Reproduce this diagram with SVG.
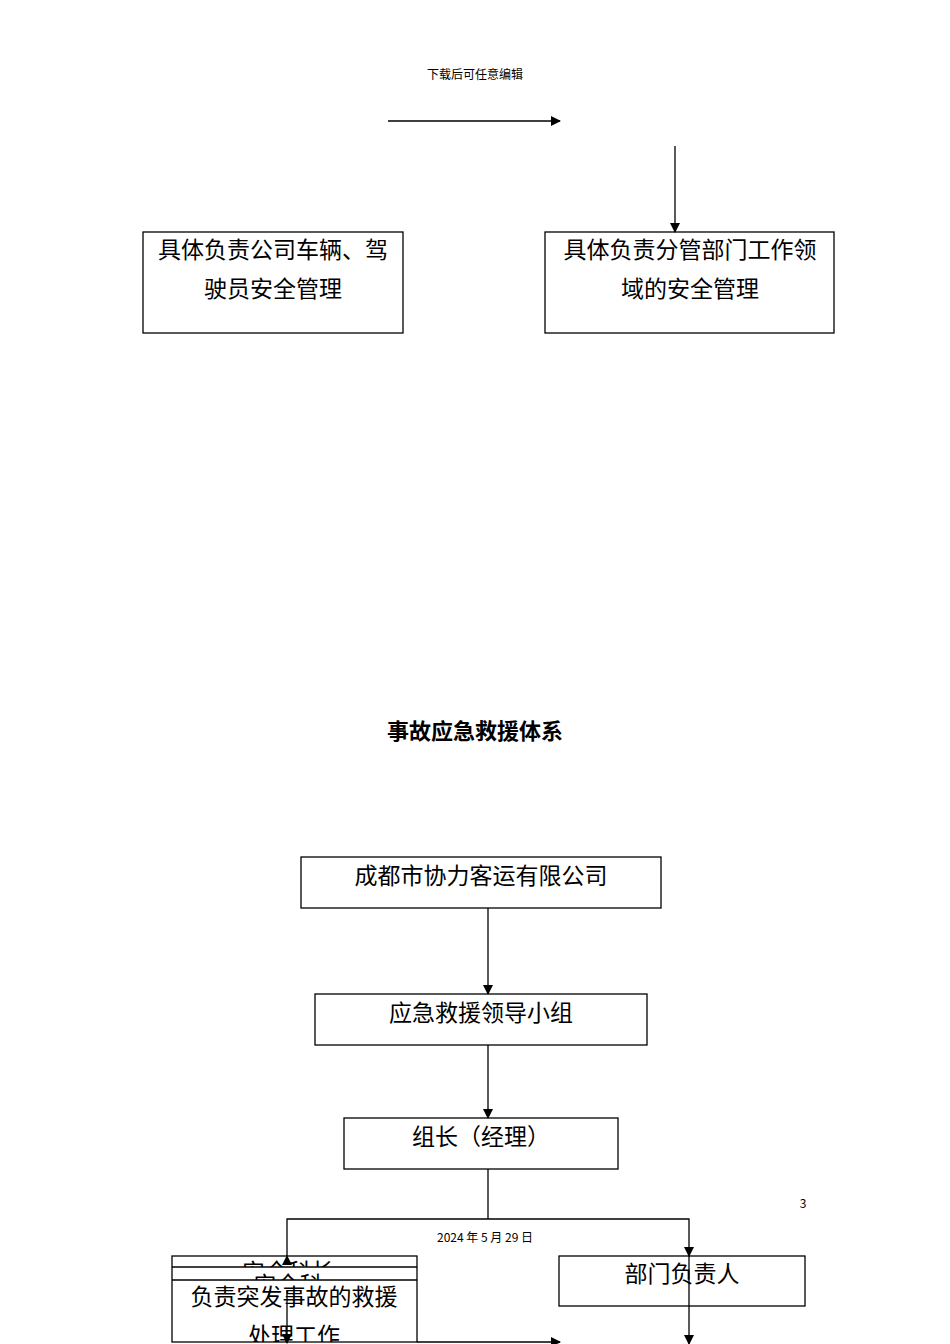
<svg xmlns="http://www.w3.org/2000/svg" width="950" height="1344" viewBox="0 0 950 1344">
<style>
text{font-family:"Noto Sans CJK SC","Liberation Sans",sans-serif;fill:#000}
.b{fill:#fff;stroke:#000;stroke-width:1.3}
.t{font-size:23px;text-anchor:middle}
.c line,.c polyline{stroke:#000;stroke-width:1.3;fill:none}
</style>
<defs>
<marker id="a" markerWidth="10" markerHeight="10" refX="9" refY="5" orient="auto" markerUnits="userSpaceOnUse"><path d="M0,0L10,5L0,10z"/></marker>
<clipPath id="c1"><rect x="172" y="1256" width="245" height="11"/></clipPath>
<clipPath id="c2"><rect x="172" y="1267" width="245" height="13"/></clipPath>
<clipPath id="c3"><rect x="172" y="1280" width="245" height="62"/></clipPath>
</defs>
<rect width="950" height="1344" fill="#fff"/>
<text x="475" y="79" font-size="12" text-anchor="middle" font-family="Liberation Serif,Noto Sans CJK SC,serif">下载后可任意编辑</text>
<g id="n1"><rect class="b" x="143" y="232" width="260" height="101"/><text class="t" x="273" y="258">具体负责公司车辆、驾</text><text class="t" x="273" y="297">驶员安全管理</text></g>
<g id="n2"><rect class="b" x="545" y="232" width="289" height="101"/><text class="t" x="690" y="258">具体负责分管部门工作领</text><text class="t" x="690" y="297">域的安全管理</text></g>
<text x="475" y="739" font-size="22" font-weight="bold" text-anchor="middle">事故应急救援体系</text>
<g id="n3"><rect class="b" x="301" y="857" width="360" height="51"/><text class="t" x="481" y="884">成都市协力客运有限公司</text></g>
<g id="n4"><rect class="b" x="315" y="994" width="332" height="51"/><text class="t" x="481" y="1021">应急救援领导小组</text></g>
<g id="n5"><rect class="b" x="344" y="1118" width="274" height="51"/><text class="t" x="481" y="1145">组长（经理）</text></g>
<g id="n6"><rect class="b" x="559" y="1256" width="246" height="50"/><text class="t" x="682" y="1282">部门负责人</text></g>
<g id="n7"><rect class="b" x="172" y="1256" width="245" height="86"/>
<text class="t" x="288" y="1280" clip-path="url(#c1)">安全科长</text>
<text class="t" x="288" y="1293" clip-path="url(#c2)">安全科</text>
<line x1="172" y1="1267" x2="417" y2="1267" stroke="#000" stroke-width="1.3"/>
<line x1="172" y1="1280" x2="417" y2="1280" stroke="#000" stroke-width="1.3"/>
<g clip-path="url(#c3)"><text class="t" x="294" y="1305">负责突发事故的救援</text><text class="t" x="294" y="1344">处理工作</text></g></g>
<text x="803" y="1208" font-size="12" text-anchor="middle" font-family="Liberation Sans,sans-serif">3</text>
<text x="485" y="1242" font-size="12" text-anchor="middle" font-family="Liberation Serif,Noto Sans CJK SC,serif">2024 年 5 月 29 日</text>
<g class="c">
<line x1="388" y1="121" x2="560" y2="121" marker-end="url(#a)"/>
<line x1="675" y1="146" x2="675" y2="232" marker-end="url(#a)"/>
<line x1="488" y1="908" x2="488" y2="994" marker-end="url(#a)"/>
<line x1="488" y1="1045" x2="488" y2="1118" marker-end="url(#a)"/>
<line x1="488" y1="1169" x2="488" y2="1219"/>
<polyline points="287,1256 287,1219 689,1219 689,1256" marker-start="url(#a)" marker-end="url(#a)"/>
<line x1="689" y1="1256" x2="689" y2="1344" marker-end="url(#a)"/>
<line x1="287" y1="1290" x2="287" y2="1343" marker-end="url(#a)"/>
<line x1="417" y1="1342" x2="560" y2="1342" marker-end="url(#a)"/>
</g>
</svg>
